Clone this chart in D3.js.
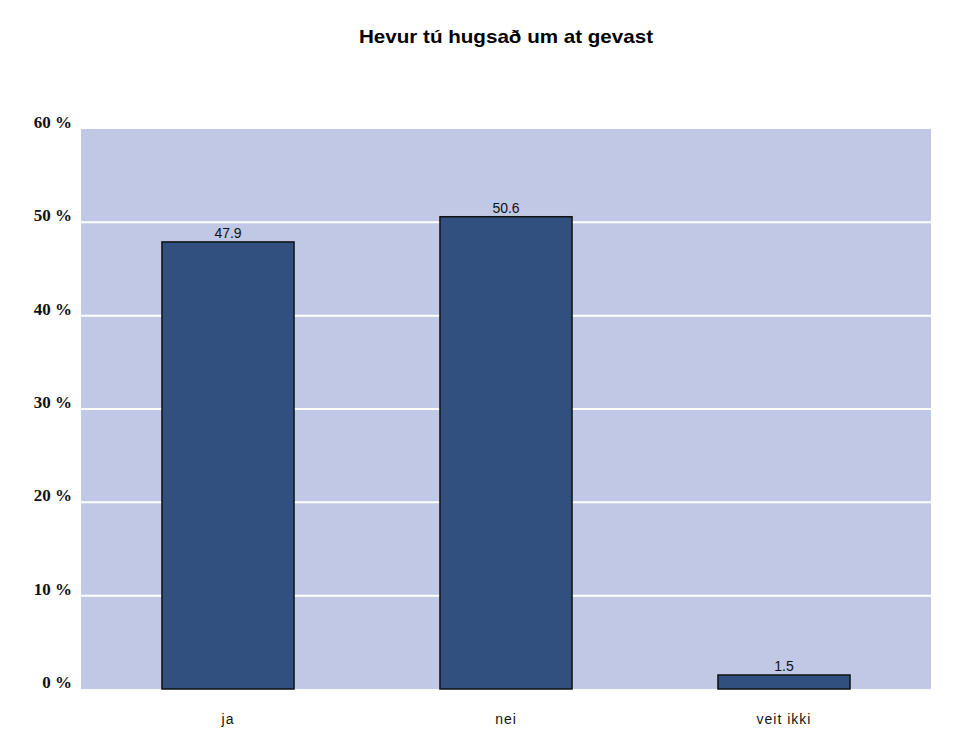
<!DOCTYPE html>
<html><head><meta charset="utf-8">
<script src="https://cdn.jsdelivr.net/npm/d3@7"></script>
<style>body{margin:0;background:#fff}</style>
</head><body>
<svg id="c" width="976" height="733"></svg>
<script>
const title = "Hevur tú hugsað um at gevast";
const categories = ["ja", "nei", "veit ikki"];
const values = [47.9, 50.6, 1.5];
const yTicks = [0, 10, 20, 30, 40, 50, 60];

const svg = d3.select("#c");
const plot = {left: 81, right: 931, top: 129, bottom: 689};

const y = d3.scaleLinear().domain([0, 60]).range([plot.bottom, plot.top]);
const x = d3.scaleBand().domain(categories).range([89, 923]).padding(0);
const barW = x.bandwidth() * 0.475;

svg.append("rect").attr("x", plot.left).attr("y", plot.top)
  .attr("width", plot.right - plot.left).attr("height", plot.bottom - plot.top)
  .attr("fill", "#c0c8e6");

svg.append("g").selectAll("line").data(yTicks.filter(d => d > 0 && d < 60)).join("line")
  .attr("x1", plot.left).attr("x2", plot.right)
  .attr("y1", d => y(d)).attr("y2", d => y(d))
  .attr("stroke", "#ffffff").attr("stroke-width", 2);

svg.append("g").selectAll("text").data(yTicks).join("text")
  .attr("x", 72).attr("y", d => y(d) - 1)
  .attr("text-anchor", "end")
  .attr("font-family", "Liberation Serif, Times New Roman, serif")
  .attr("font-weight", "bold").attr("font-size", 17)
  .attr("fill", "#111")
  .text(d => d + " %");

svg.append("g").selectAll("rect").data(values).join("rect")
  .attr("x", (d, i) => x(categories[i]) + (x.bandwidth() - barW) / 2)
  .attr("y", d => y(d))
  .attr("width", barW)
  .attr("height", d => y(0) - y(d))
  .attr("fill", "#32507f").attr("stroke", "#111").attr("stroke-width", 1.5);

svg.append("g").selectAll("text").data(values).join("text")
  .attr("x", (d, i) => x(categories[i]) + x.bandwidth() / 2)
  .attr("y", d => y(d) - 4)
  .attr("text-anchor", "middle")
  .attr("font-family", "Liberation Sans, Arial, sans-serif").attr("font-size", 14)
  .attr("fill", "#111")
  .text(d => d.toFixed(1));

svg.append("g").selectAll("text").data(categories).join("text")
  .attr("x", d => x(d) + x.bandwidth() / 2)
  .attr("y", 724)
  .attr("text-anchor", "middle")
  .attr("font-family", "Liberation Sans, Arial, sans-serif").attr("font-size", 14)
  .attr("letter-spacing", 1)
  .attr("fill", "#111")
  .text(d => d);

svg.append("text").attr("x", 506).attr("y", 43)
  .attr("text-anchor", "middle")
  .attr("font-family", "Liberation Sans Narrow, Arial Narrow, sans-serif")
  .attr("font-weight", "bold").attr("font-size", 19)
  .attr("textLength", 294).attr("lengthAdjust", "spacingAndGlyphs")
  .text(title);
</script>
</body></html>
